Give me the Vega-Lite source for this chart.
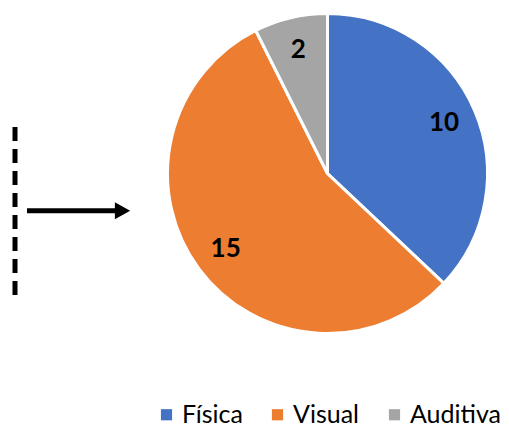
{
  "$schema": "https://vega.github.io/schema/vega-lite/v6.json",
  "padding": 0,
  "spacing": 0,
  "background": "white",
  "config": {"view": {"stroke": null}, "font": "Lato"},
  "hconcat": [
    {
      "width": 160,
      "height": 347,
      "data": {"values": [{}]},
      "layer": [
        {
          "mark": {"type": "rule", "strokeWidth": 5, "strokeDash": [14, 8], "color": "black"},
          "encoding": {
            "x": {"datum": 15, "type": "quantitative", "scale": {"domain": [0, 160]}, "axis": null},
            "y": {"datum": 128, "type": "quantitative", "scale": {"domain": [0, 347], "reverse": true}, "axis": null},
            "y2": {"datum": 303}
          }
        },
        {
          "mark": {"type": "rule", "strokeWidth": 5, "color": "black"},
          "encoding": {
            "x": {"datum": 27, "type": "quantitative"},
            "x2": {"datum": 117},
            "y": {"datum": 212.5, "type": "quantitative"}
          }
        },
        {
          "mark": {"type": "point", "shape": "M-0.9,-1L0.9,0L-0.9,1Z", "size": 289, "filled": true, "color": "black", "opacity": 1},
          "encoding": {
            "x": {"datum": 122.5, "type": "quantitative"},
            "y": {"datum": 212.5, "type": "quantitative"}
          }
        }
      ]
    },
    {
      "width": 335,
      "height": 347,
      "data": {
        "values": [
          {"tipo": "Física", "valor": 10, "orden": 1},
          {"tipo": "Visual", "valor": 15, "orden": 2},
          {"tipo": "Auditiva", "valor": 2, "orden": 3}
        ]
      },
      "encoding": {
        "theta": {"field": "valor", "type": "quantitative", "stack": true},
        "order": {"field": "orden", "type": "quantitative"}
      },
      "layer": [
        {
          "mark": {"type": "arc", "outerRadius": 160, "stroke": "white", "strokeWidth": 3},
          "encoding": {
            "color": {
              "field": "tipo",
              "type": "nominal",
              "scale": {"domain": ["Física", "Visual", "Auditiva"], "range": ["#4472C4", "#ED7D31", "#A5A5A5"]},
              "legend": {
                "title": null,
                "orient": "none",
                "legendX": 154,
                "legendY": 402,
                "direction": "horizontal",
                "symbolType": "square",
                "symbolSize": 125,
                "symbolStrokeWidth": 0,
                "labelFontSize": 25,
                "labelFont": "Lato",
                "labelColor": "#000000",
                "labelOffset": 3,
                "columnPadding": 22,
                "padding": 0
              }
            }
          }
        },
        {
          "mark": {"type": "text", "radius": 127, "fontSize": 26, "fontWeight": "bold", "font": "Lato"},
          "encoding": {
            "text": {"field": "valor", "type": "quantitative"},
            "color": {"value": "black"}
          }
        }
      ]
    }
  ]
}
